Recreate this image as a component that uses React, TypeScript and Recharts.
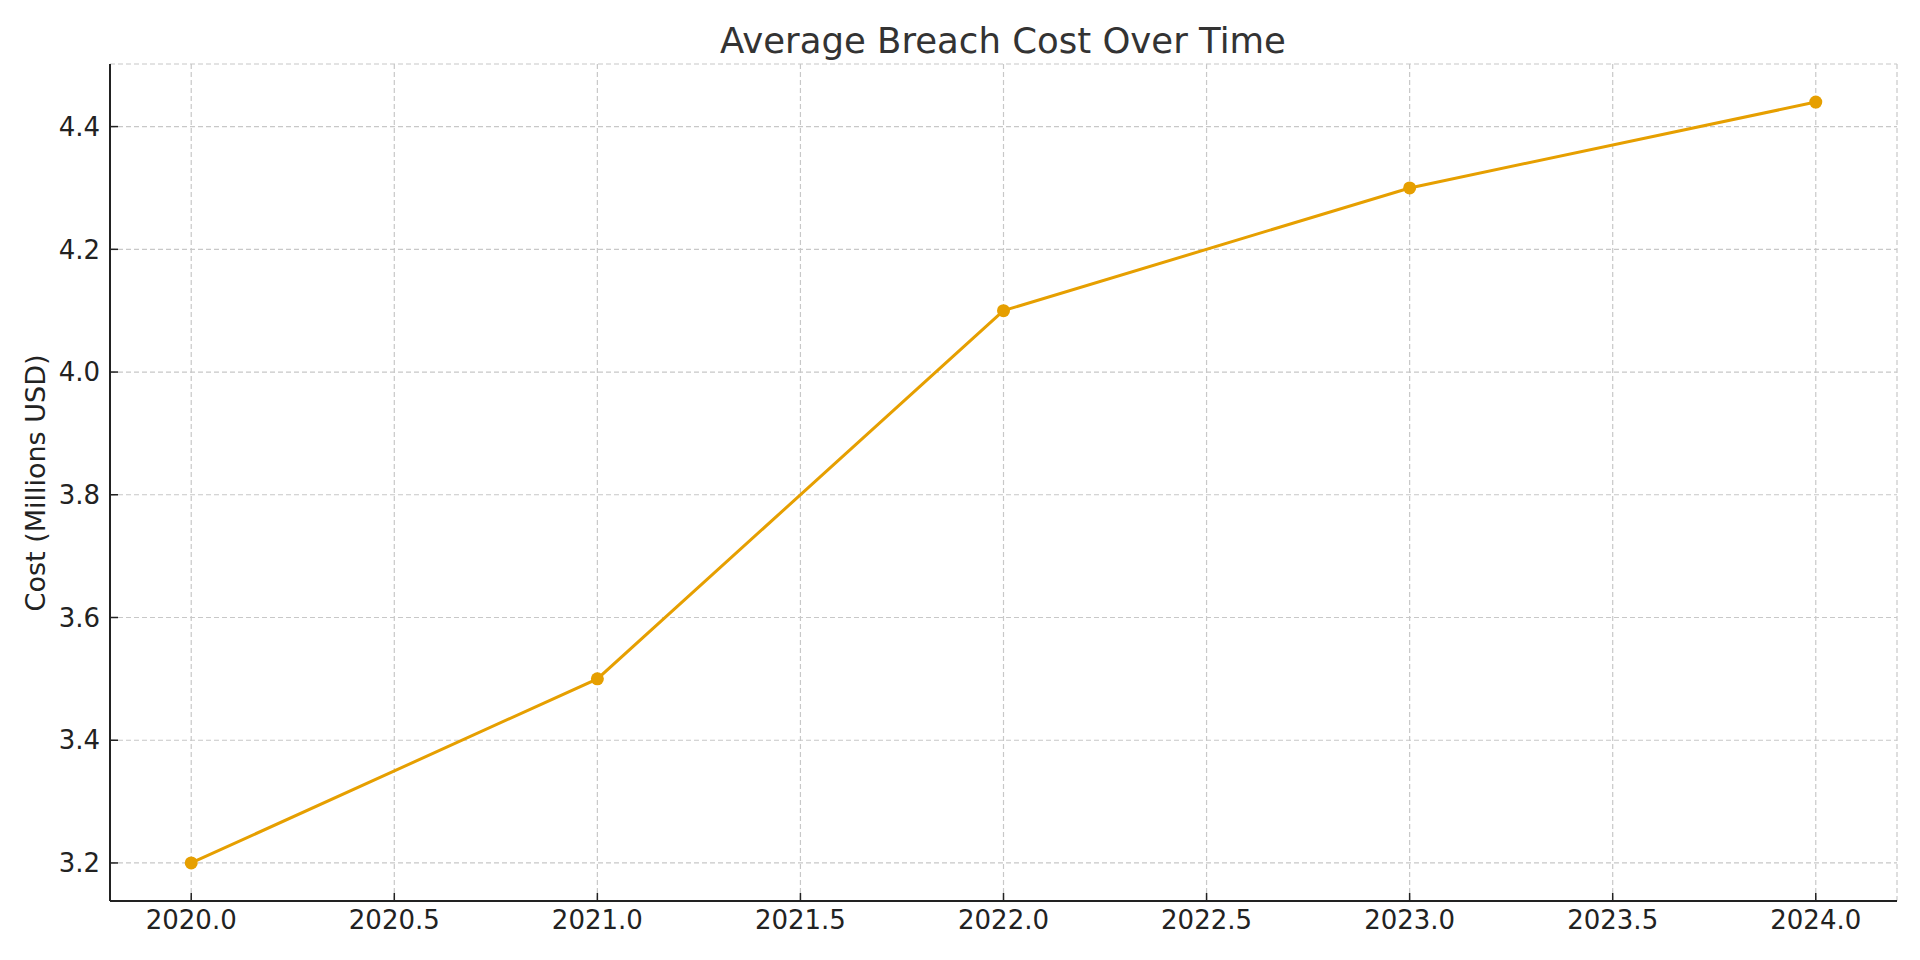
import {
  LineChart,
  Line,
  XAxis,
  YAxis,
  CartesianGrid,
  Label,
} from 'recharts'

const years = [2020, 2021, 2022, 2023, 2024]
const costs = [3.2, 3.5, 4.1, 4.3, 4.44]
const xTicks = [2020, 2020.5, 2021, 2021.5, 2022, 2022.5, 2023, 2023.5, 2024]
const yTicks = [3.2, 3.4, 3.6, 3.8, 4.0, 4.2, 4.4]

const data = years.map((year, i) => ({ year, cost: costs[i] }))

const FONT = '"DejaVu Sans", sans-serif'
const INK = '#222222'

function YTitle() {
  return (
    <text
      x={45}
      y={483}
      transform="rotate(-90 45 483)"
      textAnchor="middle"
      fill={INK}
      fontSize={27}
      fontFamily={FONT}
    >
      Cost (Millions USD)
    </text>
  )
}

export default function App() {
  return (
    <div style={{ position: 'absolute', left: 0, top: 0, width: 1920, height: 960, background: '#fff' }}>
      <LineChart
        width={1920}
        height={960}
        data={data}
        margin={{ top: 64, right: 23, left: 0, bottom: 0 }}
        style={{ fontFamily: FONT }}
      >
        <CartesianGrid stroke="#c8c8c8" strokeWidth={1.2} strokeDasharray="5 3" />
        <XAxis
          dataKey="year"
          type="number"
          domain={[2019.8, 2024.2]}
          ticks={xTicks}
          tickFormatter={(v: number) => v.toFixed(1)}
          height={59}
          stroke={INK}
          axisLine={{ strokeWidth: 2 }}
          tickLine={{ strokeWidth: 1.5 }}
          tickSize={-8}
          tickMargin={18}
          tick={{ fill: INK, fontSize: 26, fontFamily: FONT }}
          interval={0}
        />
        <YAxis
          type="number"
          domain={[3.138, 4.502]}
          ticks={yTicks}
          tickFormatter={(v: number) => v.toFixed(1)}
          width={110}
          stroke={INK}
          axisLine={{ strokeWidth: 2 }}
          tickLine={{ strokeWidth: 1.5 }}
          tickSize={-8}
          tickMargin={18}
          tick={{ fill: INK, fontSize: 26, fontFamily: FONT }}
          interval={0}
        >
          <Label content={<YTitle />} />
        </YAxis>
        <Line
          type="linear"
          dataKey="cost"
          stroke="#E69F00"
          strokeWidth={3}
          dot={{ r: 6.5, fill: '#E69F00', stroke: 'none' }}
          activeDot={false}
          isAnimationActive={false}
        />
      </LineChart>
      <svg
        width={1920}
        height={960}
        style={{ position: 'absolute', left: 0, top: 0, pointerEvents: 'none' }}
      >
        <text x={1003} y={53} textAnchor="middle" fill="#333333" fontSize={35.5} fontFamily={FONT}>
          Average Breach Cost Over Time
        </text>
      </svg>
    </div>
  )
}
